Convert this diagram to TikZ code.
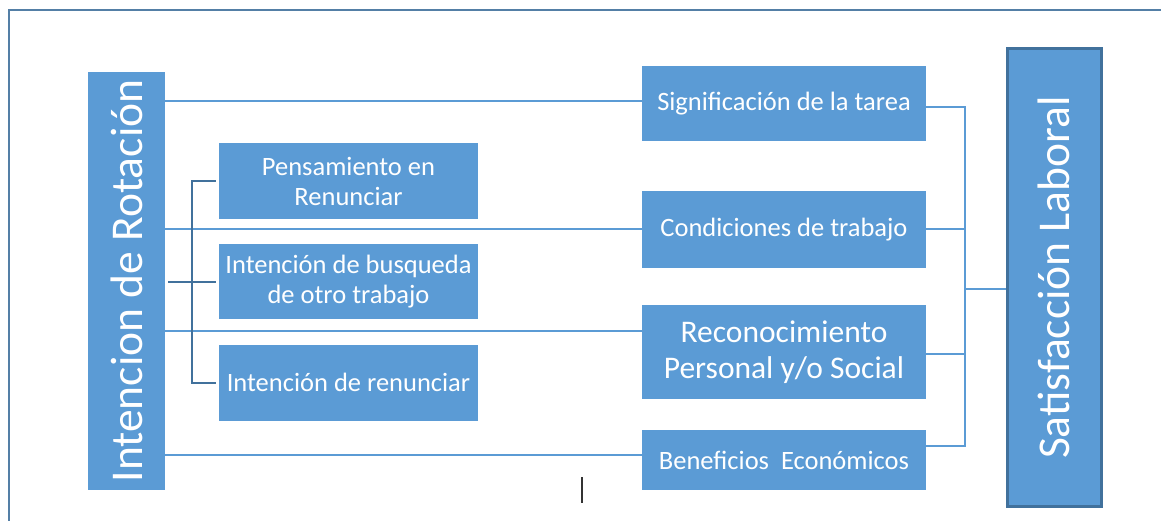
\documentclass[tikz,border=0pt]{standalone}
\usepackage{fontspec}
\usepackage{graphicx}
\setmainfont{Carlito}
\usetikzlibrary{positioning,calc}
\definecolor{boxblue}{HTML}{5B9BD5}
\definecolor{darkblue}{HTML}{41719C}
\tikzset{
    item/.style={
    rectangle,
    fill=boxblue,
    text=white,
    align=center,
    inner sep=0pt,
    font=\fontsize{26.5}{30}\selectfont
  },
    link/.style={
    draw=boxblue,
    line width=2pt
  },
    brace/.style={
    draw=darkblue,
    line width=2.2pt
  }
}

\begin{document}
\begin{tikzpicture}[x=1pt, y=-1pt]
  \useasboundingbox (0,0) rectangle (1161,521);
  \draw[darkblue!90, line width=2.5pt] (9,521) -- (9,10) -- (1161,10);

  \node[item,minimum width=77,minimum height=418,font=\fontsize{45.5}{48}\selectfont] (n_rot) at (126.5,281) {\rotatebox{90}{Intencion de Rotación}};
  \node[item,minimum width=94,minimum height=457,draw=darkblue,line width=3pt,font=\fontsize{45.5}{48}\selectfont] (n_sat) at (1054,277.5) {\rotatebox{90}{Satisfacción Laboral}};

  \node[item,minimum width=259,minimum height=76] (n_pen) at (348.5,181) {Pensamiento en\\Renunciar};
  \node[item,minimum width=259,minimum height=75] (n_bus) [below=25pt of n_pen] {Intención de busqueda\\de otro trabajo};
  \node[item,minimum width=259,minimum height=76] (n_ren) [below=25pt of n_bus] {Intención de renunciar};

  \node[item,minimum width=284,minimum height=75] (n_sig) at (784,103.5) {Significación de la tarea};
  \node[item,minimum width=284,minimum height=77] (n_con) at (784,229.5) {Condiciones de trabajo};
  \node[item,minimum width=284,minimum height=94,font=\fontsize{31.5}{36}\selectfont] (n_rec) at (784,352) {Reconocimiento\\Personal y/o Social};
  \node[item,minimum width=284,minimum height=60] (n_ben) at (784,460) {Beneficios~ Económicos};

  % rotation -> factors
  \draw[link] ([yshift=2pt]n_rot.east |- n_sig.west) -- ([yshift=2pt]n_sig.west);
  \draw[link] (n_rot.east |- n_con.west) -- (n_con.west);
  \draw[link] ([yshift=21pt]n_rot.east |- n_rec.west) -- ([yshift=21pt]n_rec.west);
  \draw[link] ([yshift=5pt]n_rot.east |- n_ben.west) -- ([yshift=5pt]n_ben.west);

  % intention bracket
  \draw[brace] ([xshift=-3pt]n_pen.west) -- ++(-24,0) |- ([xshift=-3pt]n_ren.west);
  \draw[brace] ([xshift=3pt]n_rot.east |- n_bus.west) -- ([xshift=-3pt]n_bus.west);

  % factors -> satisfaction
  \coordinate (j_sat) at (965,289);
  \draw[link] ([yshift=-3.5pt]n_sig.east) -| ($([yshift=14pt]n_ben.east)+(39,0)$) -- ([yshift=14pt]n_ben.east);
  \draw[link] (n_con.east) -- (n_con.east -| j_sat);
  \draw[link] ([yshift=-2pt]n_rec.east) -- ([yshift=-2pt]n_rec.east -| j_sat);
  \draw[link] (j_sat) -- (n_sat.west |- j_sat);

  \draw[black!80, line width=1.3pt] (582,477) -- (582,503);
\end{tikzpicture}
\end{document}
